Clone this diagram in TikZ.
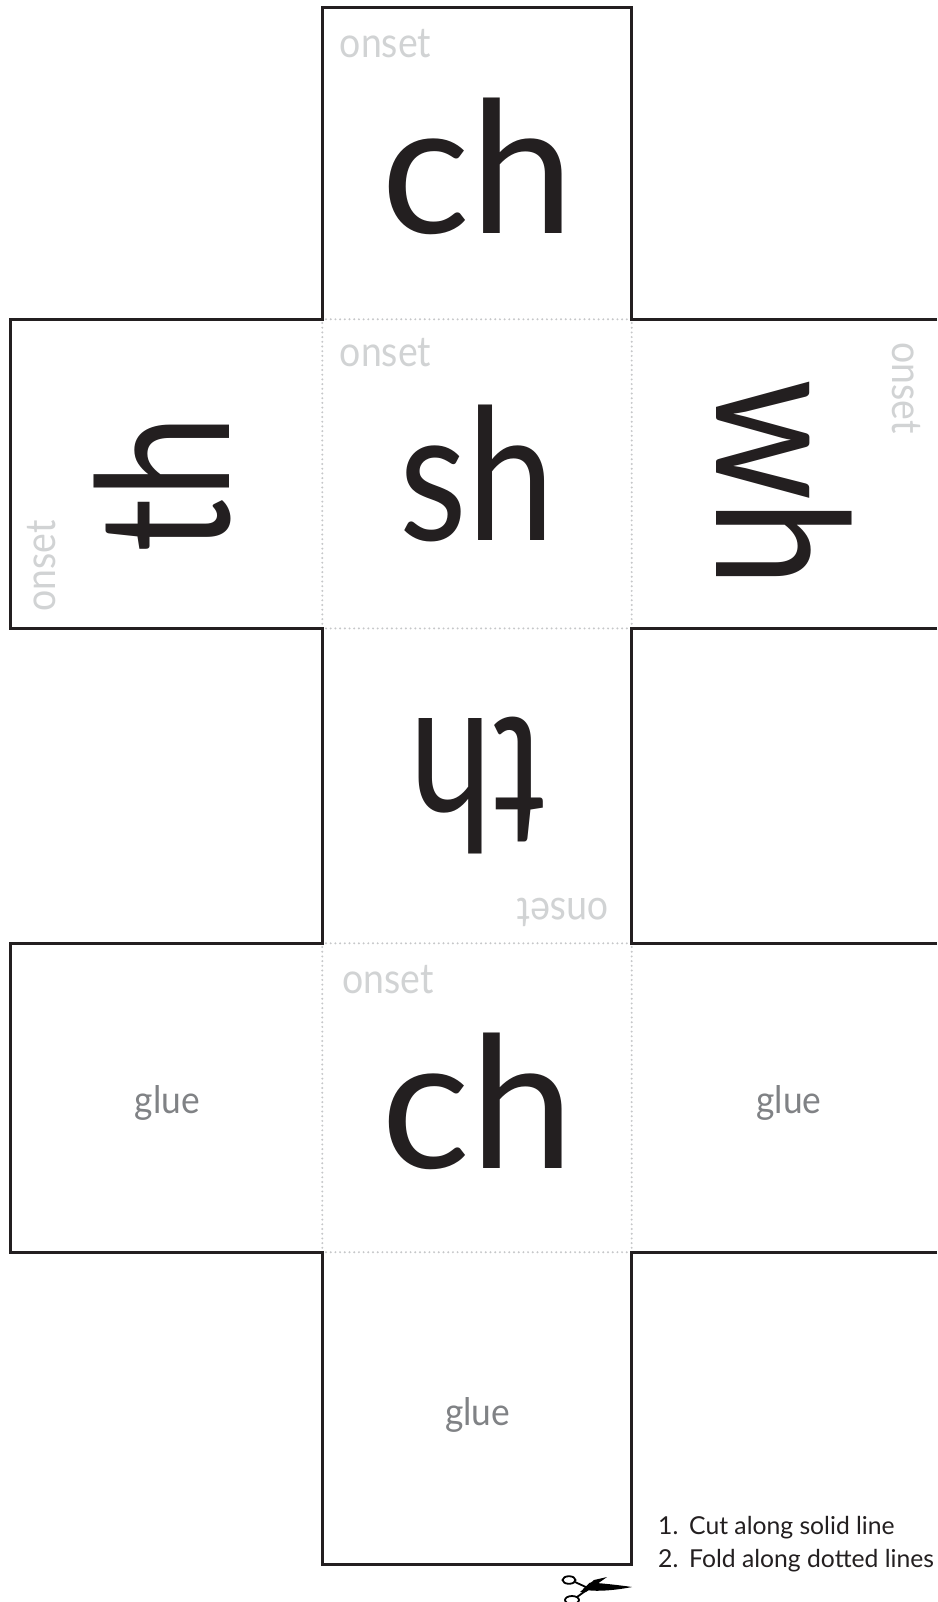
\documentclass[tikz,border=0pt]{standalone}
\usepackage{fontspec}
\setmainfont{Lato}
\newfontfamily\notefont{Lato}
\newfontfamily\chfont{Lato}[FakeStretch=1.01]
\newfontfamily\shfont{Lato}[FakeStretch=0.85]
\newfontfamily\thfont{Lato}[FakeStretch=0.81]
\newfontfamily\whfont{Lato}[FakeStretch=0.84]
\newfontfamily\onsetfont{Lato}[FakeStretch=0.89]
\newfontfamily\gluefont{Lato}[FakeStretch=0.93]
\definecolor{inkc}{HTML}{231F20}
\definecolor{onsetc}{HTML}{D1D3D4}
\definecolor{gluec}{HTML}{808285}
\definecolor{foldc}{HTML}{C6C7C9}
\tikzset{
  x=1pt,y=-1pt,
  cutline/.style={draw=inkc,line width=3pt,line cap=butt,line join=miter},
  foldline/.style={draw=foldc,line width=2.2pt,line cap=round,dash pattern=on 0pt off 4.7pt},
  bigtxt/.style={inner sep=0pt,anchor=base,text=inkc,font=\fontsize{184}{184}\selectfont},
  onsettxt/.style={inner sep=0pt,anchor=base,text=onsetc,font=\onsetfont\fontsize{42}{42}\selectfont},
  gluetxt/.style={inner sep=0pt,anchor=base,text=gluec,font=\gluefont\fontsize{38}{38}\selectfont},
  notetxt/.style={inner sep=0pt,anchor=base west,text=inkc,font=\notefont\fontsize{24.7}{24.7}\selectfont},
  scissorline/.style={draw=black,line width=1.8pt},
}
\begin{document}
\begin{tikzpicture}
\useasboundingbox (0,0) rectangle (937,1602);
\fill[white] (0,0) rectangle (937,1602);
% fold lines
\draw[foldline] (326,319.3) -- (628,319.3);
\draw[foldline] (326,628.4) -- (628,628.4);
\draw[foldline] (326,943.3) -- (628,943.3);
\draw[foldline] (326,1252.2) -- (628,1252.2);
\draw[foldline] (322.3,323) -- (322.3,625);
\draw[foldline] (631.7,323) -- (631.7,625);
\draw[foldline] (322.3,947) -- (322.3,1249);
\draw[foldline] (631.7,947) -- (631.7,1249);
% cut outline
\draw[cutline] (937,319.3) -- (631.7,319.3) -- (631.7,7.3) -- (322.3,7.3) -- (322.3,319.3) -- (10,319.3) -- (10,628.4) -- (322.3,628.4) -- (322.3,943.3) -- (10,943.3) -- (10,1252.2) -- (322.3,1252.2) -- (322.3,1564.3) -- (631.7,1564.3) -- (631.7,1252.2) -- (937,1252.2);
\draw[cutline] (937,628.4) -- (631.7,628.4) -- (631.7,943.3) -- (937,943.3);
% big letters
\node[bigtxt] (ch1) at (477.5,234) {\chfont ch};
\node[bigtxt] (sh) at (477,540) {\shfont sh};
\node[bigtxt,rotate=180] (th1) at (478,718) {\thfont th};
\node[bigtxt,rotate=90] (th2) at (229,484) {\thfont th};
\node[bigtxt,rotate=-90] (wh) at (716,483) {\whfont wh};
\node[bigtxt] (ch2) at (477.7,1168.3) {\chfont ch};
% onset labels
\node[onsettxt] (o1) at (385.5,57.7) {onset};
\node[onsettxt] (o2) at (385.5,366.5) {onset};
\node[onsettxt,rotate=90] (o3) at (55,566) {onset};
\node[onsettxt,rotate=-90] (o4) at (892.5,388) {onset};
\node[onsettxt,rotate=180] (o5) at (563,898) {onset};
\node[onsettxt] (o6) at (388,993.7) {onset};
% glue labels
\node[gluetxt] (g1) at (167.5,1113.7) {glue};
\node[gluetxt] (g2) at (789,1113.7) {glue};
\node[gluetxt] (g3) at (477.7,1425.3) {glue};
% notes
\node[notetxt] (n1) at (658,1534.5) {1.};
\node[notetxt] (n2) at (689,1534.5) {Cut along solid line};
\node[notetxt] (n3) at (658,1567) {2.};
\node[notetxt] (n4) at (689,1567) {Fold along dotted lines};
% scissors
\begin{scope}
\clip (550,1570) rectangle (640,1602);
\fill[black] (632,1587) .. controls (615,1584.5) and (598,1583) .. (590,1582.5) -- (583,1589) .. controls (590,1592) and (612,1591) .. (632,1587) -- cycle;
\fill[black] (607,1577) -- (594,1580) -- (580,1592) -- (586,1592) -- cycle;
\draw[scissorline] (569,1580) ellipse (6.5 and 3.8);
\draw[scissorline] (572,1600) ellipse (7 and 4);
\draw[scissorline] (575,1582) -- (588,1588);
\draw[scissorline] (577,1597) -- (588,1589);
\end{scope}
\end{tikzpicture}
\end{document}
